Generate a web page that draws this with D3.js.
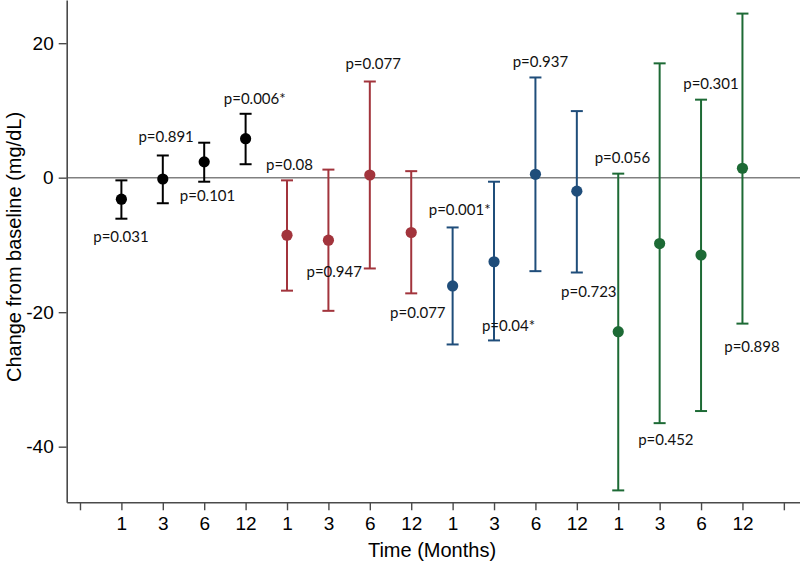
<!DOCTYPE html>
<html><head><meta charset="utf-8">
<script src="https://cdn.jsdelivr.net/npm/d3@7"></script>
<style>body{margin:0;background:#fff}</style>
</head><body><svg id="c" width="800" height="561"></svg>
<script>
const groups = ["A","A","A","A","B","B","B","B","C","C","C","C","D","D","D","D"];
const months = ["1","3","6","12","1","3","6","12","1","3","6","12","1","3","6","12"];
const means = [-3.2,-0.2,2.35,5.8, -8.55,-9.3,0.4,-8.15, -16.1,-12.5,0.5,-2.0, -22.9,-9.8,-11.5,1.4];
const lows  = [-6.1,-3.8,-0.6,2.0, -16.8,-19.8,-13.5,-17.2, -24.8,-24.2,-13.9,-14.1, -46.5,-36.5,-34.7,-21.7];
const highs = [-0.4,3.3,5.2,9.5, -0.4,1.2,14.3,0.97, -7.4,-0.6,14.9,9.9, 0.6,17.0,11.6,24.4];
const pLabels = ["p=0.031","p=0.891","p=0.101","p=0.006*","p=0.08","p=0.947","p=0.077","p=0.077","p=0.001*","p=0.04*","p=0.937","p=0.723","p=0.056","p=0.452","p=0.301","p=0.898"];
// label anchor in data units: [x position (category units), y value]
const pPosX = [0.99, 2.08, 3.08, 4.22, 5.06, 6.14, 7.08, 8.16, 9.17, 10.35, 11.12, 12.29, 13.1, 14.15, 15.24, 16.23];
const pPosY = [-8.8, 6.1, -2.7, 11.7, 1.9, -14.0, 16.9, -20.1, -4.7, -22.0, 17.25, -17.0, 2.9, -38.9, 14.0, -25.1];
const yTicks = [20, 0, -20, -40];
const colors = {A:"#000000", B:"#a2343c", C:"#1f4d7a", D:"#1d6a35"};

const svg = d3.select("#c");
const x = d3.scaleLinear().domain([-0.321, 17.39]).range([66.7, 800]);
const y = d3.scaleLinear().domain([-48.27, 26.42]).range([502.3, 0]);
const axisFont = "'Liberation Sans', Arial, sans-serif";

// zero line
svg.append("line").attr("x1", x(-0.321)).attr("x2", 800).attr("y1", y(0)).attr("y2", y(0))
  .attr("stroke", "#808080").attr("stroke-width", 1.6);

// axes
const yAxis = svg.append("g").attr("transform", `translate(${x(-0.321)},0)`)
  .call(d3.axisLeft(y).tickValues(yTicks).tickSize(8).tickSizeOuter(0).tickPadding(5).tickFormat(d => String(d)));
const xAxis = svg.append("g").attr("transform", `translate(0,${y(-48.27)})`)
  .call(d3.axisBottom(x).tickValues(d3.range(0, 18)).tickSize(8).tickSizeOuter(0).tickPadding(6)
    .tickFormat(i => (i >= 1 && i <= 16) ? months[i - 1] : ""));
[yAxis, xAxis].forEach(g => {
  g.selectAll("path").attr("stroke", "#4a4a4a").attr("stroke-width", 1.6);
  g.selectAll("line").attr("stroke", "#4a4a4a").attr("stroke-width", 1.4);
  g.selectAll("text").attr("fill", "#000").style("font-family", axisFont).style("font-size", "19px");
});

// axis titles
svg.append("text").attr("x", 432).attr("y", 557).attr("text-anchor", "middle")
  .style("font-family", axisFont).style("font-size", "20px").text("Time (Months)");
svg.append("text").attr("transform", "translate(21,247) rotate(-90)").attr("text-anchor", "middle")
  .style("font-family", axisFont).style("font-size", "20px").text("Change from baseline (mg/dL)");

// error bars
const data = means.map((m, i) => ({i: i + 1, m, lo: lows[i], hi: highs[i], c: colors[groups[i]]}));
const g = svg.append("g");
data.forEach(d => {
  const cx = x(d.i);
  g.append("line").attr("x1", cx).attr("x2", cx).attr("y1", y(d.hi)).attr("y2", y(d.lo)).attr("stroke", d.c).attr("stroke-width", 2);
  [d.hi, d.lo].forEach(v => g.append("line").attr("x1", cx - 6).attr("x2", cx + 6).attr("y1", y(v)).attr("y2", y(v)).attr("stroke", d.c).attr("stroke-width", 2));
  g.append("circle").attr("cx", cx).attr("cy", y(d.m)).attr("r", 5.6).attr("fill", d.c);
});

// p labels
pLabels.forEach((t, i) => {
  svg.append("text").attr("x", x(pPosX[i])).attr("y", y(pPosY[i])).attr("text-anchor", "middle").attr("dy", "0.35em")
    .style("font-family", "Lato, 'Open Sans', sans-serif").style("font-size", "15px").attr("fill", "#111").text(t);
});
</script></body></html>
